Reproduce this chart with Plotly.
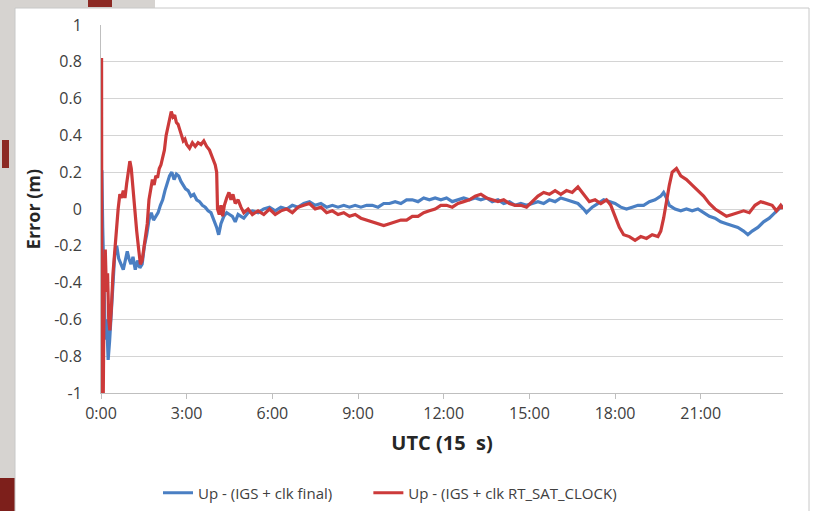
import plotly.graph_objects as go

# Up-component positioning error over one day (hours UTC), two clock products
blue_t = [0.0, 0.03, 0.06, 0.1, 0.15, 0.2, 0.25, 0.3, 0.36, 0.42, 0.48, 0.55, 0.62, 0.7, 0.78,
          0.85, 0.92, 0.98, 1.05, 1.12, 1.2, 1.28, 1.36, 1.44, 1.52, 1.6, 1.68, 1.76, 1.84, 1.92,
          2.0, 2.08, 2.16, 2.24, 2.32, 2.4, 2.48, 2.56, 2.64, 2.72, 2.8, 2.88, 2.96, 3.05, 3.15,
          3.25, 3.35, 3.45, 3.55, 3.65, 3.75, 3.85, 3.95, 4.05, 4.12, 4.2, 4.3, 4.4, 4.5, 4.6,
          4.7, 4.8, 4.9, 5.0, 5.15, 5.3, 5.5, 5.7, 5.9, 6.1, 6.3, 6.5, 6.7, 6.9, 7.1, 7.3, 7.5,
          7.7, 7.9, 8.1, 8.3, 8.5, 8.7, 8.9, 9.1, 9.3, 9.5, 9.7, 9.9, 10.1, 10.3, 10.5, 10.7,
          10.9, 11.1, 11.3, 11.5, 11.7, 11.9, 12.1, 12.3, 12.5, 12.7, 12.9, 13.1, 13.3, 13.5,
          13.7, 13.9, 14.1, 14.3, 14.5, 14.7, 14.9, 15.1, 15.3, 15.5, 15.7, 15.9, 16.1, 16.3,
          16.5, 16.7, 16.9, 17.0, 17.2, 17.4, 17.6, 17.8, 18.0, 18.2, 18.4, 18.6, 18.8, 19.0,
          19.2, 19.4, 19.6, 19.7, 19.8, 19.9, 20.1, 20.3, 20.5, 20.7, 20.9, 21.1, 21.3, 21.5,
          21.7, 21.9, 22.1, 22.3, 22.5, 22.65, 22.8, 23.0, 23.2, 23.4, 23.6, 23.75, 23.88]
blue_v = [0.0, 0.21, -0.1, -0.45, -0.71, -0.6, -0.82, -0.72, -0.55, -0.35, -0.25, -0.2, -0.27,
          -0.3, -0.33, -0.28, -0.23, -0.27, -0.3, -0.26, -0.33, -0.28, -0.32, -0.3, -0.2, -0.14,
          -0.06, -0.02, -0.06, -0.04, -0.02, 0.02, 0.05, 0.1, 0.14, 0.18, 0.2, 0.16, 0.19, 0.18,
          0.15, 0.13, 0.11, 0.1, 0.07, 0.08, 0.05, 0.04, 0.02, 0.01, -0.01, -0.02, -0.06, -0.1,
          -0.14, -0.08, -0.04, -0.02, -0.03, -0.04, -0.07, -0.03, -0.04, -0.05, -0.02, -0.01,
          -0.02, 0.0, 0.01, -0.01, 0.01, 0.0, 0.02, 0.01, 0.03, 0.04, 0.02, 0.03, 0.01, 0.02,
          0.01, 0.02, 0.01, 0.02, 0.01, 0.02, 0.02, 0.01, 0.03, 0.03, 0.04, 0.03, 0.05, 0.05,
          0.04, 0.06, 0.05, 0.06, 0.05, 0.06, 0.04, 0.05, 0.06, 0.05, 0.06, 0.05, 0.06, 0.04,
          0.05, 0.03, 0.04, 0.02, 0.03, 0.02, 0.03, 0.04, 0.03, 0.05, 0.04, 0.06, 0.05, 0.04,
          0.03, 0.0, -0.02, 0.01, 0.03, 0.05, 0.04, 0.03, 0.01, 0.0, 0.01, 0.02, 0.02, 0.04,
          0.05, 0.07, 0.09, 0.06, 0.02, 0.0, -0.01, 0.0, -0.01, 0.0, -0.02, -0.04, -0.05, -0.07,
          -0.08, -0.09, -0.1, -0.12, -0.14, -0.12, -0.1, -0.07, -0.05, -0.02, 0.0, 0.02]

red_t = [0.0, 0.02, 0.03, 0.06, 0.08, 0.11, 0.15, 0.19, 0.23, 0.27, 0.31, 0.36, 0.42, 0.48,
         0.55, 0.6, 0.66, 0.72, 0.78, 0.84, 0.9, 0.96, 1.01, 1.06, 1.12, 1.18, 1.25, 1.32, 1.38,
         1.44, 1.5, 1.56, 1.62, 1.68, 1.74, 1.8, 1.86, 1.92, 1.98, 2.04, 2.1, 2.16, 2.22, 2.28,
         2.34, 2.4, 2.46, 2.52, 2.58, 2.64, 2.7, 2.76, 2.82, 2.88, 2.94, 3.0, 3.1, 3.2, 3.3,
         3.4, 3.5, 3.6, 3.7, 3.8, 3.9, 4.0, 4.05, 4.08, 4.14, 4.2, 4.26, 4.32, 4.4, 4.48, 4.55,
         4.62, 4.7, 4.8, 4.9, 5.0, 5.15, 5.3, 5.5, 5.7, 5.9, 6.1, 6.3, 6.5, 6.7, 6.9, 7.1, 7.3,
         7.5, 7.7, 7.9, 8.1, 8.3, 8.5, 8.7, 8.9, 9.1, 9.3, 9.5, 9.7, 9.9, 10.1, 10.3, 10.5,
         10.7, 10.9, 11.1, 11.3, 11.5, 11.7, 11.9, 12.1, 12.3, 12.5, 12.7, 12.9, 13.1, 13.3,
         13.5, 13.7, 13.9, 14.1, 14.3, 14.5, 14.7, 14.9, 15.1, 15.3, 15.5, 15.7, 15.9, 16.1,
         16.3, 16.5, 16.7, 16.9, 17.1, 17.3, 17.5, 17.7, 17.85, 18.0, 18.15, 18.3, 18.5, 18.7,
         18.9, 19.1, 19.3, 19.5, 19.6, 19.7, 19.8, 19.9, 20.0, 20.15, 20.3, 20.5, 20.7, 20.9,
         21.1, 21.3, 21.5, 21.7, 21.9, 22.1, 22.3, 22.5, 22.7, 22.9, 23.1, 23.3, 23.5, 23.65,
         23.8, 23.88]
red_v = [0.0, 0.82, -1.0, -0.6, -1.0, -0.4, -0.22, -0.45, -0.35, -0.6, -0.66, -0.55, -0.35,
         -0.22, -0.12, 0.0, 0.08, 0.06, 0.1, 0.06, 0.14, 0.22, 0.26, 0.22, 0.1, -0.02, -0.12,
         -0.22, -0.3, -0.28, -0.22, -0.16, -0.08, 0.05, 0.12, 0.16, 0.13, 0.18, 0.17, 0.22,
         0.24, 0.28, 0.32, 0.4, 0.44, 0.49, 0.53, 0.5, 0.51, 0.47, 0.46, 0.43, 0.4, 0.37, 0.38,
         0.35, 0.33, 0.36, 0.34, 0.36, 0.35, 0.37, 0.34, 0.32, 0.28, 0.24, 0.2, 0.0, -0.03,
         0.02, -0.04, 0.02, 0.06, 0.09, 0.05, 0.08, 0.03, 0.05, 0.01, -0.02, 0.0, -0.03, -0.01,
         -0.03, 0.0, -0.03, -0.01, 0.0, -0.02, 0.01, 0.02, 0.03, 0.0, 0.01, -0.02, -0.01,
         -0.03, -0.02, -0.04, -0.03, -0.05, -0.06, -0.07, -0.08, -0.09, -0.08, -0.07, -0.06,
         -0.06, -0.04, -0.04, -0.02, -0.01, 0.0, 0.02, 0.02, 0.01, 0.03, 0.04, 0.05, 0.07,
         0.08, 0.06, 0.05, 0.04, 0.05, 0.03, 0.02, 0.02, 0.01, 0.04, 0.07, 0.09, 0.08, 0.1,
         0.08, 0.1, 0.09, 0.12, 0.08, 0.04, 0.05, 0.03, 0.05, 0.02, -0.04, -0.1, -0.14, -0.15,
         -0.17, -0.15, -0.16, -0.14, -0.15, -0.12, -0.05, 0.05, 0.13, 0.2, 0.22, 0.18, 0.16,
         0.13, 0.1, 0.07, 0.03, 0.0, -0.02, -0.04, -0.03, -0.02, -0.01, -0.02, 0.02, 0.04,
         0.03, 0.02, -0.01, 0.02, 0.0]

x_tick_vals = [0, 3, 6, 9, 12, 15, 18, 21]
x_tick_text = ["0:00", "3:00", "6:00", "9:00", "12:00", "15:00", "18:00", "21:00"]
y_tick_vals = [1, 0.8, 0.6, 0.4, 0.2, 0, -0.2, -0.4, -0.6, -0.8, -1]
y_tick_text = ["1", "0.8", "0.6", "0.4", "0.2", "0", "-0.2", "-0.4", "-0.6", "-0.8", "-1"]

series_names = ["Up - (IGS + clk final)", "Up - (IGS + clk RT_SAT_CLOCK)"]
BLUE = "#4a7fc3"
RED = "#cc3a3a"

W, H = 813, 511
ML, MR, MT, MB = 101, 30, 25, 118
PW, PH = W - ML - MR, H - MT - MB


def px(x):
    return (x - ML) / PW


def py(y):
    return (H - MB - y) / PH


fig = go.Figure()
# trailing non-breaking spaces widen the gap between the two legend entries
fig.add_trace(go.Scatter(x=blue_t, y=blue_v, mode="lines", name=series_names[0] + "\u00a0" * 8,
                         line=dict(color=BLUE, width=3.2)))
fig.add_trace(go.Scatter(x=red_t, y=red_v, mode="lines", name=series_names[1],
                         line=dict(color=RED, width=3.2)))

font_main = "Open Sans, Noto Sans, sans-serif"

# slide background peeking around the white chart card
shapes = [
    dict(type="rect", xref="paper", yref="paper", x0=px(0), x1=px(15), y0=py(0), y1=py(H),
         fillcolor="#d6d3d0", line=dict(width=0), layer="below"),
    dict(type="rect", xref="paper", yref="paper", x0=px(0), x1=px(155), y0=py(0), y1=py(8),
         fillcolor="#d6d3d0", line=dict(width=0), layer="below"),
    dict(type="rect", xref="paper", yref="paper", x0=px(88), x1=px(112), y0=py(0), y1=py(7),
         fillcolor="#8c2a24", line=dict(width=0), layer="below"),
    dict(type="rect", xref="paper", yref="paper", x0=px(0), x1=px(15), y0=py(478), y1=py(H),
         fillcolor="#7d1f1b", line=dict(width=0), layer="below"),
    dict(type="rect", xref="paper", yref="paper", x0=px(2), x1=px(9), y0=py(140), y1=py(168),
         fillcolor="#8c2a24", line=dict(width=0), layer="below"),
    dict(type="rect", xref="paper", yref="paper", x0=px(15), x1=px(809), y0=py(8), y1=py(H + 5),
         fillcolor="white", line=dict(color="#c8c8c8", width=1), layer="below"),
]

fig.update_layout(
    width=W, height=H,
    margin=dict(l=ML, r=MR, t=MT, b=MB, autoexpand=False),
    paper_bgcolor="white",
    plot_bgcolor="white",
    shapes=shapes,
    showlegend=True,
    legend=dict(orientation="h", x=px(158), xanchor="left", y=py(493), yanchor="middle",
                font=dict(family=font_main, size=15, color="#404040"),
                bgcolor="rgba(0,0,0,0)", itemwidth=30, tracegroupgap=0),
    font=dict(family=font_main, color="#404040"),
)

fig.update_xaxes(
    range=[0, 23.88], tickvals=x_tick_vals, ticktext=x_tick_text, automargin=False,
    showgrid=False, zeroline=False, showline=True, linecolor="#bfbfbf", linewidth=1,
    ticks="outside", ticklen=5, tickcolor="#bfbfbf", ticklabelstandoff=1,
    tickfont=dict(family=font_main, size=16, color="#404040"),
    title=dict(text="<b>UTC (15\u00a0 s)</b>", standoff=12,
               font=dict(family=font_main, size=20, color="#262626")),
)
fig.update_yaxes(
    range=[-1, 1], tickvals=y_tick_vals, ticktext=y_tick_text, automargin=False,
    showgrid=True, gridcolor="#d4d4d4", gridwidth=1.2, zeroline=False,
    showline=True, linecolor="#bfbfbf", linewidth=1, ticks="", ticklabelstandoff=15,
    tickfont=dict(family=font_main, size=16, color="#404040"),
    title=dict(text="<b>Error (m)</b>", standoff=8,
               font=dict(family=font_main, size=18, color="#262626")),
)

fig.write_html("out.html")
